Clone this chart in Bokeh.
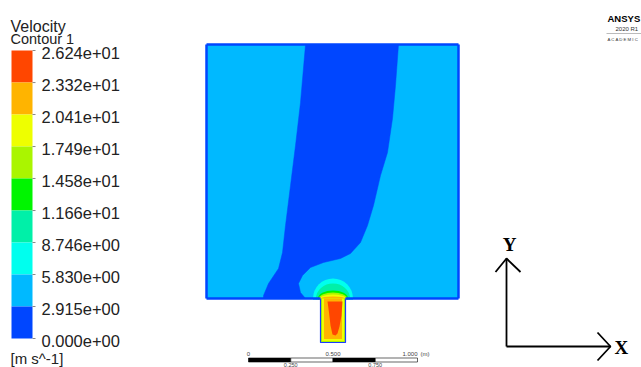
from bokeh.plotting import figure
from bokeh.models import Range1d
from bokeh.embed import file_html
from bokeh.resources import INLINE
from bokeh.core.properties import value

# ---------------- data ----------------
# legend levels (m/s), top to bottom
level_values = [26.24, 23.32, 20.41, 17.49, 14.58, 11.66, 8.746, 5.830, 2.915, 0.000]
level_labels = ["2.624e+01", "2.332e+01", "2.041e+01", "1.749e+01", "1.458e+01",
                "1.166e+01", "8.746e+00", "5.830e+00", "2.915e+00", "0.000e+00"]
band_colors = ["#FF4600", "#FFB400", "#EEFF00", "#AAF500", "#00F500",
               "#00F0A8", "#00FFEE", "#00B9FF", "#0046FF"]
legend_title = ["Velocity", "Contour 1"]
unit_label = "[m s^-1]"

# contour boundaries (image coordinates)
domain_box = dict(left=206, right=458, top=44, bottom=298)
low_band_x = [305, 398, 395, 392, 387, 380, 373, 367, 360, 350, 340, 323, 310, 302, 298, 300, 305,
              263, 263, 268, 278, 282, 285, 290, 295, 300]
low_band_y = [44, 44, 85, 118, 152, 175, 205, 225, 242, 253, 258, 262, 267, 275, 283, 292, 298,
              298, 295, 283, 268, 252, 225, 185, 145, 102]
plume_colors = ["#00FFEE", "#00F0A8", "#00F500", "#AAF500", "#EEFF00", "#FFB400"]
plume_widths = [40, 34, 30, 28, 26, 24]
plume_heights = [40, 30, 16, 12, 8, 4]
nozzle = dict(left=320, right=345, top=298, bottom=342)
core_x = [327, 342, 341, 339, 337, 335, 332, 330, 328.5]
core_y = [301, 301, 315, 326, 333, 335, 334, 325, 312]

scale_ticks = [0.0, 0.25, 0.5, 0.75, 1.0]
scale_labels_top = ["0", "0.500", "1.000"]
scale_labels_bottom = ["0.250", "0.750"]

LIGHT = "#00B9FF"
DARK = "#0046FF"

W, H = 641, 367
p = figure(width=W, height=H, x_range=Range1d(0, W), y_range=Range1d(H, 0),
           output_backend="svg", toolbar_location=None, min_border=0)
p.axis.visible = False
p.grid.visible = False
p.outline_line_color = None
p.background_fill_color = "white"
p.border_fill_color = "white"

sans = value("Liberation Sans")

# ---------------- legend ----------------
bar_left, bar_right, bar_top, bar_bottom = 11, 32, 50, 338
vmax = level_values[0]


def ly(v):
    return bar_bottom - v / vmax * (bar_bottom - bar_top)


p.quad(left=[bar_left] * 9, right=[bar_right] * 9,
       top=[ly(v) for v in level_values[:-1]], bottom=[ly(v) for v in level_values[1:]],
       fill_color=band_colors, line_color=None)
p.segment(x0=[bar_right] * 10, x1=[bar_right + 3] * 10,
          y0=[ly(v) for v in level_values], y1=[ly(v) for v in level_values],
          line_color="#888888", line_width=1)
p.text(x=[41] * 10, y=[ly(v) + 2.5 for v in level_values], text=level_labels,
       text_font=sans, text_font_size="16.5px", text_color="#222222",
       text_baseline="middle", text_align="left")
p.text(x=[10], y=[26], text=[legend_title[0]], text_font=sans, text_font_size="16px",
       text_color="#222222", text_baseline="alphabetic")
p.text(x=[10], y=[38], text=[legend_title[1]], text_font=sans, text_font_size="14.5px",
       text_color="#222222", text_baseline="alphabetic")
p.text(x=[10], y=[358], text=[unit_label], text_font=sans, text_font_size="15px",
       text_color="#222222", text_baseline="alphabetic")

# ---------------- contour domain ----------------
b = domain_box
p.quad(left=[b["left"]], right=[b["right"]], top=[b["top"]], bottom=[b["bottom"]],
       fill_color=LIGHT, line_color=None)
p.patch(low_band_x, low_band_y, fill_color=DARK, line_color=DARK, line_width=0.5)

cx = (nozzle["left"] + nozzle["right"]) / 2
p.ellipse(x=[cx] * 6, y=[b["bottom"]] * 6, width=plume_widths, height=plume_heights,
          fill_color=plume_colors, line_color=None)
# mask below the domain
p.quad(left=[295], right=[370], top=[b["bottom"] + 1.2], bottom=[348],
       fill_color="white", line_color=None)

# walls of domain
p.multi_line(xs=[[b["left"], b["right"]], [b["left"], b["left"]], [b["right"], b["right"]],
                 [b["left"], nozzle["left"]], [nozzle["right"], b["right"]]],
             ys=[[b["top"], b["top"]], [b["top"], b["bottom"]], [b["top"], b["bottom"]],
                 [b["bottom"], b["bottom"]], [b["bottom"], b["bottom"]]],
             line_color=DARK, line_width=2.5)

# nozzle
n = nozzle
p.quad(left=[n["left"]], right=[n["right"]], top=[n["top"]], bottom=[n["bottom"]],
       fill_color="#AAF500", line_color=None)
p.quad(left=[n["left"] + 1.5], right=[n["right"] - 1.5], top=[n["top"]], bottom=[n["bottom"] - 1.5],
       fill_color="#EEFF00", line_color=None)
p.quad(left=[n["left"] + 3.5], right=[n["right"] - 3.5], top=[n["top"]], bottom=[n["bottom"] - 3.5],
       fill_color="#FFB400", line_color=None)
p.patch(core_x, core_y, fill_color="#FF4600", line_color=None)
p.multi_line(xs=[[n["left"], n["left"], n["right"], n["right"]]],
             ys=[[n["top"], n["bottom"], n["bottom"], n["top"]]],
             line_color="#1A3CFF", line_width=1.2)

# ---------------- scale bar ----------------
sb_left, sb_px_per_m, sb_top, sb_bot = 248, 169, 357.5, 361.5
sx = [sb_left + t * sb_px_per_m for t in scale_ticks]
p.quad(left=sx[:-1], right=sx[1:], top=[sb_top] * 4, bottom=[sb_bot] * 4,
       fill_color=["black", "white", "black", "white"], line_color="black", line_width=0.6)
p.text(x=[sx[0], sx[2], sx[4]], y=[353.5] * 3, text=scale_labels_top, text_font=sans,
       text_font_size="6px", text_color="#444444", text_align=["center", "center", "right"],
       text_baseline="middle")
p.text(x=[sx[4] + 3], y=[353.5], text=["(m)"], text_font=sans, text_font_size="6px",
       text_color="#444444", text_baseline="middle")
p.text(x=[sx[1], sx[3]], y=[364.5] * 2, text=scale_labels_bottom, text_font=sans,
       text_font_size="5.5px", text_color="#444444", text_align="center", text_baseline="middle")

# ---------------- axis triad ----------------
p.multi_line(xs=[[506, 506], [506, 610], [495, 506, 520], [597, 610, 597]],
             ys=[[258, 346], [346, 346], [271.5, 258, 271.5], [332, 346, 360]],
             line_color="black", line_width=1.8)
serif = value("Liberation Serif")
p.text(x=[509], y=[244], text=["Y"], text_font=serif, text_font_style="bold",
       text_font_size="19px", text_align="center", text_baseline="middle", text_color="black")
p.text(x=[614], y=[347], text=["X"], text_font=serif, text_font_style="bold",
       text_font_size="19px", text_align="left", text_baseline="middle", text_color="black")

# ---------------- logo ----------------
p.text(x=[607], y=[18], text=["ANSYS"], text_font=sans, text_font_style="bold",
       text_font_size="9.5px", text_baseline="middle", text_color="black")
p.text(x=[615], y=[28], text=["2020 R1"], text_font=sans, text_font_size="6px",
       text_baseline="middle", text_color="#333333")
p.line(x=[606, 641], y=[33, 33], line_color="#aaaaaa", line_width=0.8)
p.text(x=[607], y=[39], text=["A C A D E M I C"], text_font=sans, text_font_size="4.3px",
       text_baseline="middle", text_color="#333333")

open("out.html", "w").write(file_html(p, INLINE))
